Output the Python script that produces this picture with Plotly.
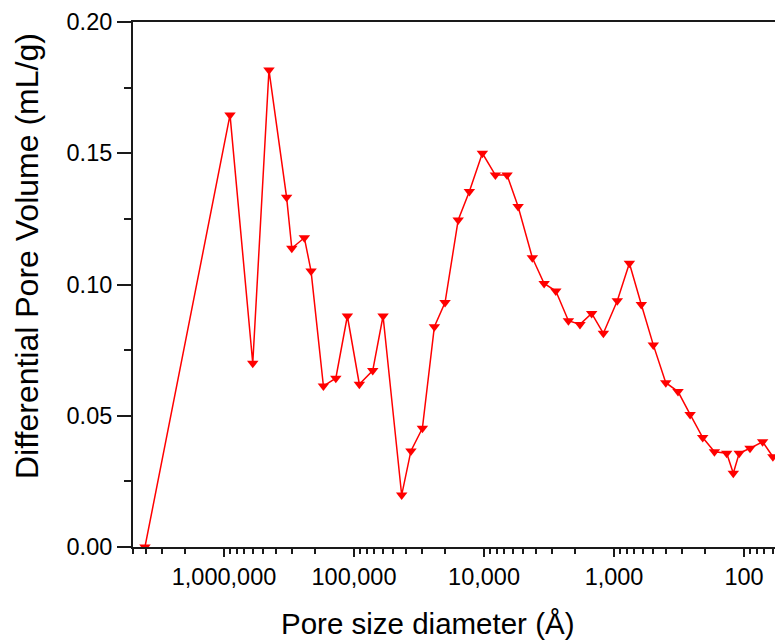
import plotly.graph_objects as go

# Pore size diameter (Å) and differential pore volume (mL/g)
pore_diameter = [4055000, 899000, 601000, 451000, 330000, 301000, 241000, 214000,
                 172000, 138000, 112500, 91000, 71800, 59800, 43000, 36500, 29800,
                 24100, 19950, 15800, 12970, 10300, 8180, 6650, 5470, 4250, 3450,
                 2805, 2244, 1828, 1486, 1208, 944, 762, 617, 499, 400, 322, 260,
                 208, 169, 136, 121, 109, 90, 72, 60]
pore_volume = [0.0000, 0.1646, 0.0700, 0.1817, 0.1332, 0.1138, 0.1178, 0.1051,
               0.0613, 0.0643, 0.0880, 0.0620, 0.0672, 0.0880, 0.0198, 0.0366,
               0.0452, 0.0839, 0.0931, 0.1246, 0.1354, 0.1500, 0.1417, 0.1417,
               0.1297, 0.1102, 0.1004, 0.0975, 0.0862, 0.0848, 0.0890, 0.0814,
               0.0938, 0.1081, 0.0924, 0.0770, 0.0626, 0.0592, 0.0505, 0.0417,
               0.0363, 0.0357, 0.0281, 0.0357, 0.0376, 0.0401, 0.0344]

x_tick_vals = [1000000, 100000, 10000, 1000, 100]
x_tick_text = ["1,000,000", "100,000", "10,000", "1,000", "100"]
y_tick_vals = [0.00, 0.05, 0.10, 0.15, 0.20]

x_title = "Pore size diameter (Å)"
y_title = "Differential Pore Volume (mL/g)"

decades = [10, 100, 1000, 10000, 100000, 1000000]
minor_vals = [d * k for d in decades for k in range(2, 10)]

FONT = "Liberation Sans, Arial, Helvetica, sans-serif"
AX = "#1a1a1a"

fig = go.Figure()
fig.add_trace(go.Scatter(
    x=pore_diameter, y=pore_volume, mode="lines+markers",
    line=dict(color="#ff0000", width=1.5),
    marker=dict(symbol="triangle-down", size=10, color="#ff0000", line=dict(width=0)),
    showlegend=False,
))

fig.update_layout(
    width=775, height=640,
    margin=dict(l=133, r=0, t=22, b=93),
    paper_bgcolor="white", plot_bgcolor="white",
    font=dict(family=FONT, color="black"),
    xaxis=dict(
        type="log", range=[6.700, 1.762],
        tickmode="array", tickvals=x_tick_vals, ticktext=x_tick_text,
        ticks="outside", ticklen=8, tickwidth=1.5, tickcolor=AX,
        showline=True, linecolor=AX, linewidth=2, mirror=True,
        showgrid=False, zeroline=False,
        tickfont=dict(size=23.5, family=FONT, color="black"),
        minor=dict(tickmode="array", tickvals=minor_vals, ticks="outside",
                   ticklen=5, tickwidth=1.5, tickcolor=AX, showgrid=False),
    ),
    yaxis=dict(
        range=[0, 0.20],
        tickmode="array", tickvals=y_tick_vals, tickformat=".2f",
        ticks="outside", ticklen=14, tickwidth=1.5, tickcolor=AX,
        showline=True, linecolor=AX, linewidth=2, mirror=False,
        showgrid=False, zeroline=False,
        tickfont=dict(size=23.5, family=FONT, color="black"),
        minor=dict(dtick=0.025, tick0=0, ticks="outside", ticklen=7,
                   tickwidth=1.5, tickcolor=AX, showgrid=False),
    ),
    annotations=[
        dict(text=x_title, xref="paper", yref="paper", x=0.4595, y=-0.1448,
             xanchor="center", yanchor="middle", showarrow=False,
             font=dict(size=29.5, family=FONT, color="black")),
        dict(text=y_title, xref="paper", yref="paper", x=-0.1651, y=0.5543,
             xanchor="center", yanchor="middle", showarrow=False, textangle=-90,
             font=dict(size=32, family=FONT, color="black")),
    ],
)

fig.write_html(
    "out.html",
    config={"displayModeBar": False},
    post_script="document.body.style.margin='0';document.body.style.overflow='hidden';",
)
